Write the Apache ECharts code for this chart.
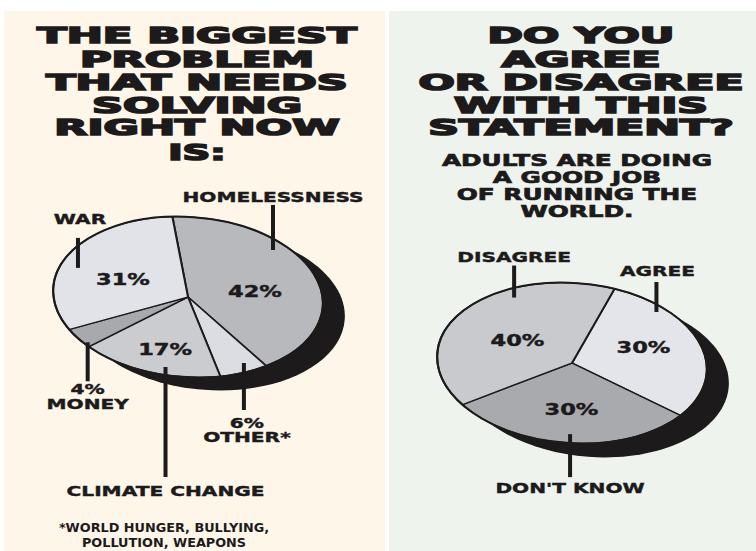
<!DOCTYPE html>
<html><head><meta charset="utf-8">
<script src="https://cdn.jsdelivr.net/npm/echarts@6/dist/echarts.min.js"></script>
<style>html,body{margin:0;padding:0;background:#fff}#c{width:756px;height:551px}</style>
</head><body><div id="c"></div>
<script>
// ---------- DATA ----------
const problemCategories = ['HOMELESSNESS', 'OTHER*', 'CLIMATE CHANGE', 'MONEY', 'WAR'];
const problemValues = [42, 6, 17, 4, 31];
const opinionCategories = ['AGREE', "DON'T KNOW", 'DISAGREE'];
const opinionValues = [30, 30, 40];
const leftTitleLines = ['THE BIGGEST', 'PROBLEM', 'THAT NEEDS', 'SOLVING', 'RIGHT NOW', 'IS:'];
const rightTitleLines = ['DO YOU', 'AGREE', 'OR DISAGREE', 'WITH THIS', 'STATEMENT?'];
const statementLines = ['ADULTS ARE DOING', 'A GOOD JOB', 'OF RUNNING THE', 'WORLD.'];
const footnoteLines = ['*WORLD HUNGER, BULLYING,', 'POLLUTION, WEAPONS'];

// ---------- STYLE / LAYOUT ----------
const INK = '#1d1a1b';
const FONT = '"DejaVu Sans", "Liberation Sans", sans-serif';
const leftColors = ['#b8b9bd', '#dcdde2', '#cbccd0', '#a8a9ad', '#e2e3e8'];
const rightColors = ['#e4e5ea', '#a9aaad', '#c9cacd'];
const leftGeom = { cx: 188, cy: 297, a: 135, b: 80, rot: -0.07, start: 99, shadow: [22, 13] };
const rightGeom = { cx: 572, cy: 363, a: 135, b: 80, rot: -0.07, start: 74, shadow: [22, 14] };
// pct: [fraction through slice, radial fraction] or null (pct shown in outer label)
// line: [fraction, radial fraction, signed length]; gap: distance from line end to first label; dx: label shift
const leftLabels = [
  { pct: [0.563, 0.507], line: [0.34, 0.895, -45], gap: 8, dx: 0 },
  { pct: null, line: [0.36, 0.894, 47], gap: 13, dx: 3 },
  { pct: [0.457, 0.696], line: [0.40, 0.902, 110], gap: 14, dx: 0 },
  { pct: null, line: [0.19, 0.97, 39], gap: 8, dx: 0 },
  { pct: [0.43, 0.513], line: [0.434, 0.87, -30], gap: 19, dx: 2 }
];
const rightLabels = [
  { pct: [0.45, 0.576], line: [0.223, 0.928, -30], gap: 11, dx: 1 },
  { pct: [0.5, 0.588], line: [0.505, 0.889, 43], gap: 11, dx: 0 },
  { pct: [0.467, 0.475], line: [0.673, 0.894, -32], gap: 8, dx: 0 }
];

function txt(str, x, y, size, sx, extra) {
  extra = extra || {};
  return {
    type: 'text', x: x, y: y, scaleX: sx, z: 10, z2: 30, silent: true,
    style: {
      text: str, fill: INK, font: 'bold ' + size + 'px ' + FONT,
      align: 'center', verticalAlign: 'middle',
      stroke: extra.stroke ? INK : null, lineWidth: extra.stroke || 0
    }
  };
}

function ellipsePoint(g, angDeg, r) {
  const A = angDeg * Math.PI / 180;
  const ux = g.a * r * Math.cos(A), uy = -g.b * r * Math.sin(A);
  const phi = -g.rot;
  return [g.cx + ux * Math.cos(phi) - uy * Math.sin(phi), g.cy + ux * Math.sin(phi) + uy * Math.cos(phi)];
}

function makeRenderer(values, cats, colors, g, labels) {
  const total = values.reduce((s, v) => s + v, 0);
  return function (params, api) {
    const i = params.dataIndex;
    const v = api.value(0);
    let before = 0;
    for (let k = 0; k < i; k++) before += values[k];
    const a0 = g.start - before / total * 360;
    const span = v / total * 360;
    const a1 = a0 - span;
    const children = [];
    if (i === 0) {
      children.push({
        type: 'ellipse', x: g.cx + g.shadow[0], y: g.cy + g.shadow[1], rotation: g.rot, z2: 0,
        shape: { cx: 0, cy: 0, rx: g.a, ry: g.b },
        style: { fill: '#1c1a1b' }
      });
      children.push({
        type: 'ellipse', x: g.cx, y: g.cy, rotation: g.rot, z2: 15,
        shape: { cx: 0, cy: 0, rx: g.a, ry: g.b },
        style: { fill: null, stroke: INK, lineWidth: 2 }
      });
    }
    children.push({
      type: 'sector', x: g.cx, y: g.cy, rotation: g.rot, scaleY: g.b / g.a, z2: 5,
      shape: { cx: 0, cy: 0, r0: 0, r: g.a, startAngle: -a0 * Math.PI / 180, endAngle: -a1 * Math.PI / 180, clockwise: true },
      style: { fill: colors[i], stroke: INK, lineWidth: 1.6, strokeNoScale: true }
    });
    const L = labels[i];
    const pctText = v + '%';
    if (L.pct) {
      const p = ellipsePoint(g, a0 - span * L.pct[0], L.pct[1]);
      children.push(txt(pctText, p[0], p[1], 15, 1.5, { stroke: 0.4 }));
    }
    const s = ellipsePoint(g, a0 - span * L.line[0], L.line[1]);
    const len = L.line[2];
    const e = [s[0], s[1] + len];
    children.push({
      type: 'line', z2: 20,
      shape: { x1: s[0], y1: s[1], x2: e[0], y2: e[1] },
      style: { stroke: INK, lineWidth: 4 }
    });
    const lines = L.pct ? [cats[i]] : [pctText, cats[i]];
    const dir = len < 0 ? -1 : 1;
    const ordered = dir < 0 ? lines.slice().reverse() : lines;
    ordered.forEach(function (str, k) {
      const y = e[1] + dir * (L.gap + k * 14.5);
      children.push(txt(str, e[0] + L.dx, y, 13.7, 1.47, { stroke: 0.4 }));
    });
    return { type: 'group', children: children };
  };
}

const graphics = [
  { type: 'rect', z: -10, shape: { x: 4, y: 11, width: 381, height: 540 }, style: { fill: '#fdf6e9' }, silent: true },
  { type: 'rect', z: -10, shape: { x: 389, y: 11, width: 367, height: 540 }, style: { fill: '#eef3ee' }, silent: true }
];
const titleY = [35, 59, 82, 105, 127.5, 152.5];
leftTitleLines.forEach((t, k) => graphics.push(txt(t, 197, titleY[k], 22, t === 'IS:' ? 1.75 : 1.96, { stroke: 1.6 })));
rightTitleLines.forEach((t, k) => graphics.push(txt(t, 581, titleY[k], 22, 1.94, { stroke: 1.6 })));
const stY = [160, 177.5, 194, 211];
statementLines.forEach((t, k) => graphics.push(txt(t, 577, stY[k], 16.5, 1.5, { stroke: 0.7 })));
const fnY = [528, 543];
footnoteLines.forEach((t, k) => graphics.push(txt(t, 164, fnY[k], 12, 1.07)));

const chart = echarts.init(document.getElementById('c'), null, { renderer: 'svg', width: 756, height: 551 });
chart.setOption({
  backgroundColor: '#ffffff',
  animation: false,
  graphic: graphics,
  series: [
    {
      type: 'custom', name: 'Biggest problem', coordinateSystem: 'none',
      data: problemValues.map((v, i) => ({ name: problemCategories[i], value: [v] })),
      renderItem: makeRenderer(problemValues, problemCategories, leftColors, leftGeom, leftLabels)
    },
    {
      type: 'custom', name: 'Adults running the world', coordinateSystem: 'none',
      data: opinionValues.map((v, i) => ({ name: opinionCategories[i], value: [v] })),
      renderItem: makeRenderer(opinionValues, opinionCategories, rightColors, rightGeom, rightLabels)
    }
  ]
});
</script></body></html>
